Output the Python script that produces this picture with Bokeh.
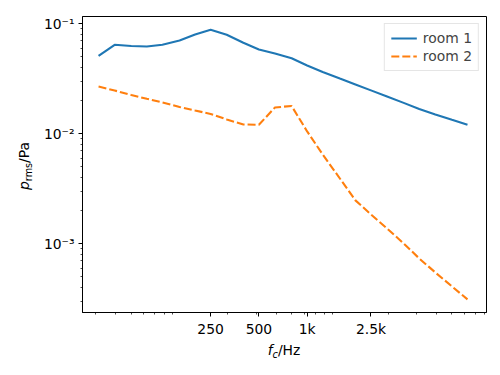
from bokeh.plotting import figure
from bokeh.models import FixedTicker, Range1d, Div
from bokeh.layouts import row, column
from bokeh.embed import file_html
from bokeh.resources import INLINE

# third-octave band centre frequencies (Hz)
freqs = [50, 63, 80, 100, 125, 160, 200, 250, 315, 400, 500, 630, 800,
         1000, 1250, 1600, 2000, 2500, 3150, 4000, 5000, 6300, 8000, 10000]
room1 = [0.051, 0.0644, 0.0628, 0.0622, 0.0644, 0.0705, 0.0799, 0.0882,
         0.0794, 0.0672, 0.0584, 0.0537, 0.0486, 0.0418, 0.0365, 0.0318,
         0.0281, 0.0248, 0.0218, 0.0191, 0.0168, 0.0150, 0.0134, 0.0121]
room2 = [0.0269, 0.02475, 0.02253, 0.0208, 0.01925, 0.01752, 0.01628,
         0.01514, 0.01349, 0.01215, 0.01208, 0.01734, 0.0179, 0.0105,
         0.00649, 0.00392, 0.00248, 0.001847, 0.001377, 0.001006,
         0.000735, 0.000548, 0.000409, 0.000312]
series_names = ["room 1", "room 2"]

x_tick_values = [250, 500, 1000, 2500]
x_tick_labels = ["250", "500", "1k", "2.5k"]
x_minor_values = [48, 64, 80, 96, 112, 128, 144,
                  320, 480, 640, 800, 960, 1120, 1280, 1440,
                  3200, 4800, 6400, 8000, 9600, 11200, 12800]
y_tick_values = [0.001, 0.01, 0.1]
y_tick_labels = ["10\u207b\u00b3", "10\u207b\u00b2", "10\u207b\u00b9"]
y_minor_values = [k * 10.0 ** e for e in (-4, -3, -2) for k in range(2, 10)]

FONT = "DejaVu Sans"
FS = "13.9px"

YLAB_W = 36
FIG_H = 340

p = figure(width=500 - YLAB_W, height=FIG_H, x_axis_type="log", y_axis_type="log",
           x_range=Range1d(39.7, 13140), y_range=Range1d(0.000237, 0.1165),
           output_backend="svg", toolbar_location=None,
           min_border_left=82 - YLAB_W, min_border_right=14, min_border_top=16,
           min_border_bottom=FIG_H - 312)

p.xgrid.visible = False
p.ygrid.visible = False
p.outline_line_color = "black"
p.outline_line_width = 1
p.outline_line_alpha = 1

p.xaxis.ticker = FixedTicker(ticks=x_tick_values, minor_ticks=x_minor_values)
p.xaxis.major_label_overrides = dict(zip(x_tick_values, x_tick_labels))
p.yaxis.ticker = FixedTicker(ticks=y_tick_values, minor_ticks=y_minor_values)
p.yaxis.major_label_overrides = dict(zip(y_tick_values, y_tick_labels))

for ax in (p.xaxis, p.yaxis):
    ax.major_tick_in = 0
    ax.major_tick_out = 4
    ax.minor_tick_in = 0
    ax.minor_tick_out = 2
    ax.major_tick_line_width = 1
    ax.minor_tick_line_width = 0.7
    ax.major_tick_line_color = "black"
    ax.minor_tick_line_color = "black"
    ax.axis_line_color = "black"
    ax.axis_line_width = 1
    ax.major_label_text_font = FONT
    ax.major_label_text_font_size = FS
    ax.major_label_text_color = "black"
    ax.major_label_standoff = 4

p.line(freqs, room1, line_width=2.1, color="#1f77b4", legend_label=series_names[0])
p.line(freqs, room2, line_width=2.1, color="#ff7f0e", line_dash="8 3",
       legend_label=series_names[1])

lg = p.legend[0]
lg.location = "top_right"
lg.margin = 7
lg.padding = 6
lg.spacing = 2
lg.label_height = 16
lg.glyph_height = 16
lg.glyph_width = 26
lg.label_standoff = 6
lg.label_text_font = FONT
lg.label_text_font_size = FS
lg.border_line_color = "#cccccc"
lg.border_line_width = 1
lg.background_fill_alpha = 0.8

TXT = "font-family:'DejaVu Sans';font-size:13.9px;line-height:16px;color:black;white-space:nowrap;"
SUB = "font-size:9.7px;vertical-align:-3px;line-height:0;"

ylab = Div(
    text=(f'<div style="position:relative;width:{YLAB_W}px;height:{FIG_H}px;">'
          f'<div style="position:absolute;left:16px;top:190px;transform:rotate(-90deg);'
          f'transform-origin:left top;{TXT}">'
          f'<i>p</i><span style="{SUB}">rms</span>/Pa</div></div>'),
    width=YLAB_W, height=FIG_H, margin=0)

xlab = Div(
    text=(f'<div style="position:relative;width:500px;height:{375 - FIG_H}px;">'
          f'<div style="position:absolute;left:82px;width:404px;top:2px;text-align:center;{TXT}">'
          f'<i>f</i><span style="{SUB}"><i>c</i></span>/Hz</div></div>'),
    width=500, height=375 - FIG_H, margin=0)

layout = column(row(ylab, p, spacing=0), xlab, spacing=0)

open("out.html", "w").write(file_html(layout, INLINE))
